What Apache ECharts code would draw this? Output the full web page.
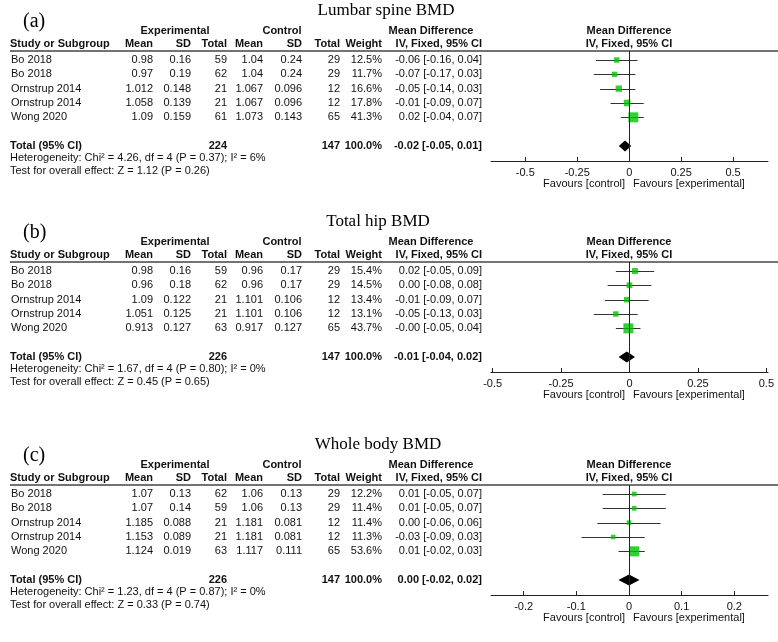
<!DOCTYPE html>
<html><head><meta charset="utf-8">
<script src="https://cdn.jsdelivr.net/npm/echarts@6/dist/echarts.min.js"></script>
<style>html,body{margin:0;padding:0;background:#fff}#c{width:778px;height:642px}</style>
</head><body><div id="c"></div>
<script>
const studies = ['Bo 2018', 'Bo 2018', 'Ornstrup 2014', 'Ornstrup 2014', 'Wong 2020'];

// (a) Lumbar spine BMD
const lumbarExpMean = [0.98, 0.97, 1.012, 1.058, 1.09];
const lumbarExpSD = [0.16, 0.19, 0.148, 0.139, 0.159];
const lumbarExpN = [59, 62, 21, 21, 61];
const lumbarCtlMean = [1.04, 1.04, 1.067, 1.067, 1.073];
const lumbarCtlSD = [0.24, 0.24, 0.096, 0.096, 0.143];
const lumbarCtlN = [29, 29, 12, 12, 65];
const lumbarWeight = [12.5, 11.7, 16.6, 17.8, 41.3];
const lumbarMD = [-0.06, -0.07, -0.05, -0.01, 0.02];
const lumbarLo = [-0.16, -0.17, -0.14, -0.09, -0.04];
const lumbarHi = [0.04, 0.03, 0.03, 0.07, 0.07];
const lumbarTotal = [-0.02, -0.05, 0.01];
const lumbarN = [224, 147];
const lumbarHet = 'Heterogeneity: Chi\u00b2 = 4.26, df = 4 (P = 0.37); I\u00b2 = 6%';
const lumbarTest = 'Test for overall effect: Z = 1.12 (P = 0.26)';
const lumbarTicks = [-0.5, -0.25, 0, 0.25, 0.5];

// (b) Total hip BMD
const hipExpMean = [0.98, 0.96, 1.09, 1.051, 0.913];
const hipExpSD = [0.16, 0.18, 0.122, 0.125, 0.127];
const hipExpN = [59, 62, 21, 21, 63];
const hipCtlMean = [0.96, 0.96, 1.101, 1.101, 0.917];
const hipCtlSD = [0.17, 0.17, 0.106, 0.106, 0.127];
const hipCtlN = [29, 29, 12, 12, 65];
const hipWeight = [15.4, 14.5, 13.4, 13.1, 43.7];
const hipMD = [0.02, 0.00, -0.01, -0.05, -0.004];
const hipLo = [-0.05, -0.08, -0.09, -0.13, -0.05];
const hipHi = [0.09, 0.08, 0.07, 0.03, 0.04];
const hipTotal = [-0.01, -0.04, 0.02];
const hipN = [226, 147];
const hipHet = 'Heterogeneity: Chi\u00b2 = 1.67, df = 4 (P = 0.80); I\u00b2 = 0%';
const hipTest = 'Test for overall effect: Z = 0.45 (P = 0.65)';
const hipTicks = [-0.5, -0.25, 0, 0.25, 0.5];

// (c) Whole body BMD
const wholeExpMean = [1.07, 1.07, 1.185, 1.153, 1.124];
const wholeExpSD = [0.13, 0.14, 0.088, 0.089, 0.019];
const wholeExpN = [62, 59, 21, 21, 63];
const wholeCtlMean = [1.06, 1.06, 1.181, 1.181, 1.117];
const wholeCtlSD = [0.13, 0.13, 0.081, 0.081, 0.111];
const wholeCtlN = [29, 29, 12, 12, 65];
const wholeWeight = [12.2, 11.4, 11.4, 11.3, 53.6];
const wholeMD = [0.01, 0.01, 0.00, -0.03, 0.01];
const wholeLo = [-0.05, -0.05, -0.06, -0.09, -0.02];
const wholeHi = [0.07, 0.07, 0.06, 0.03, 0.03];
const wholeTotal = [0.00, -0.02, 0.02];
const wholeN = [226, 147];
const wholeHet = 'Heterogeneity: Chi\u00b2 = 1.23, df = 4 (P = 0.87); I\u00b2 = 0%';
const wholeTest = 'Test for overall effect: Z = 0.33 (P = 0.74)';
const wholeTicks = [-0.2, -0.1, 0, 0.1, 0.2];

const panels = [
  {T: 0, title: 'Lumbar spine BMD', titleX: 386, tag: '(a)', expMean: lumbarExpMean, expSD: lumbarExpSD, expN: lumbarExpN,
   ctlMean: lumbarCtlMean, ctlSD: lumbarCtlSD, ctlN: lumbarCtlN, weight: lumbarWeight, md: lumbarMD, lo: lumbarLo, hi: lumbarHi,
   total: lumbarTotal, n: lumbarN, het: lumbarHet, test: lumbarTest, ticks: lumbarTicks, xMin: -0.665, xMax: 0.668},
  {T: 211, title: 'Total hip BMD', titleX: 378, tag: '(b)', expMean: hipExpMean, expSD: hipExpSD, expN: hipExpN,
   ctlMean: hipCtlMean, ctlSD: hipCtlSD, ctlN: hipCtlN, weight: hipWeight, md: hipMD, lo: hipLo, hi: hipHi,
   total: hipTotal, n: hipN, het: hipHet, test: hipTest, ticks: hipTicks, xMin: -0.506, xMax: 0.506},
  {T: 434, title: 'Whole body BMD', titleX: 378, tag: '(c)', expMean: wholeExpMean, expSD: wholeExpSD, expN: wholeExpN,
   ctlMean: wholeCtlMean, ctlSD: wholeCtlSD, ctlN: wholeCtlN, weight: wholeWeight, md: wholeMD, lo: wholeLo, hi: wholeHi,
   total: wholeTotal, n: wholeN, het: wholeHet, test: wholeTest, ticks: wholeTicks, xMin: -0.262, xMax: 0.264}
];

const FONT = '"Liberation Sans", Arial, sans-serif';
const SERIF = '"Liberation Serif", "Times New Roman", serif';
const TXT = '#111';
const reg = '11px ' + FONT;
const bold = 'bold 11px ' + FONT;
const fmt = v => v.toFixed(2);
const ciStr = (m, l, h) => fmt(m) + ' [' + fmt(l) + ', ' + fmt(h) + ']';
const TOTAL_ROW = 6;

const grids = [], xAxes = [], yAxes = [], series = [], graphics = [];

function gtext(x, y, text, font, align) {
  graphics.push({type: 'text', x: x, y: y, silent: true,
    style: {text: text, font: font, fill: TXT, align: align || 'left', verticalAlign: 'middle'}});
}

panels.forEach((P, k) => {
  const T = P.T;
  grids.push({left: 491, width: 277, top: T + 51, height: 110});
  xAxes.push({type: 'value', gridIndex: k, min: P.xMin, max: P.xMax, position: 'bottom',
    axisLine: {show: true, onZero: false, lineStyle: {color: '#222', width: 1}},
    axisTick: {show: true, inside: true, length: 4, customValues: P.ticks, lineStyle: {color: '#222'}},
    axisLabel: {show: true, customValues: P.ticks, fontSize: 11, fontFamily: FONT, color: TXT, margin: 6},
    splitLine: {show: false}});
  yAxes.push({type: 'value', gridIndex: k, min: -0.628, max: 7.047, inverse: true, show: false});

  const maxW = Math.max.apply(null, P.weight);
  // whiskers
  series.push({type: 'custom', xAxisIndex: k, yAxisIndex: k, silent: true, z: 2,
    data: P.md.map((m, i) => [P.lo[i], P.hi[i], i]),
    encode: {x: [0, 1], y: 2},
    renderItem: (params, api) => {
      const a = api.coord([api.value(0), api.value(2)]);
      const b = api.coord([api.value(1), api.value(2)]);
      const y = Math.round(a[1]) + 0.5;
      return {type: 'line', shape: {x1: a[0], y1: y, x2: b[0], y2: y}, style: {stroke: '#333', lineWidth: 1}};
    }});
  // squares
  series.push({type: 'scatter', xAxisIndex: k, yAxisIndex: k, silent: true, z: 3,
    symbol: 'rect',
    data: P.md.map((m, i) => [m, i, P.weight[i]]),
    symbolSize: v => 10 * Math.sqrt(v[2] / maxW),
    itemStyle: {color: '#00c400'},
    markLine: {silent: true, symbol: 'none', label: {show: false},
      lineStyle: {color: '#222', type: 'solid', width: 1},
      data: [{xAxis: 0}]}});
  // diamond
  series.push({type: 'custom', xAxisIndex: k, yAxisIndex: k, silent: true, z: 4,
    data: [[P.total[0], P.total[1], P.total[2], TOTAL_ROW]],
    encode: {x: [0, 1, 2], y: 3},
    renderItem: (params, api) => {
      const c = api.coord([api.value(0), api.value(3)]);
      const l = api.coord([api.value(1), api.value(3)]);
      const r = api.coord([api.value(2), api.value(3)]);
      const h = 5.5;
      return {type: 'polygon', shape: {points: [[l[0], c[1]], [c[0], c[1] - h], [r[0], c[1]], [c[0], c[1] + h]]},
        style: {fill: '#000'}};
    }});
  // table rows
  const rowData = P.md.map((m, i) => [0, i]).concat([[0, TOTAL_ROW]]);
  series.push({type: 'custom', xAxisIndex: k, yAxisIndex: k, silent: true, clip: false, z: 5,
    data: rowData,
    encode: {y: 1},
    renderItem: (params, api) => {
      const i = params.dataIndex;
      const y = api.coord([0, api.value(1)])[1];
      let cells;
      if (i < P.md.length) {
        cells = [
          [11, studies[i], 'left', reg],
          [153, String(P.expMean[i]), 'right', reg],
          [191, String(P.expSD[i]), 'right', reg],
          [227, String(P.expN[i]), 'right', reg],
          [263, String(P.ctlMean[i]), 'right', reg],
          [302, String(P.ctlSD[i]), 'right', reg],
          [340, String(P.ctlN[i]), 'right', reg],
          [382, P.weight[i].toFixed(1) + '%', 'right', reg],
          [482, ciStr(P.md[i], P.lo[i], P.hi[i]), 'right', reg]
        ];
      } else {
        cells = [
          [10, 'Total (95% CI)', 'left', bold],
          [227, String(P.n[0]), 'right', bold],
          [340, String(P.n[1]), 'right', bold],
          [382, '100.0%', 'right', bold],
          [482, ciStr(P.total[0], P.total[1], P.total[2]), 'right', bold]
        ];
      }
      return {type: 'group', children: cells.map(c => ({type: 'text', x: c[0], y: y,
        style: {text: c[1], font: c[3], fill: TXT, align: c[2], verticalAlign: 'middle'}}))};
    }});

  // static texts
  graphics.push({type: 'text', x: P.titleX, y: T + 11, silent: true,
    style: {text: P.title, font: '17px ' + SERIF, fill: '#000', align: 'center', verticalAlign: 'middle'}});
  graphics.push({type: 'text', x: 23, y: T + 22, silent: true,
    style: {text: P.tag, font: '20px ' + SERIF, fill: '#000', align: 'left', verticalAlign: 'middle'}});
  gtext(175, T + 31, 'Experimental', bold, 'center');
  gtext(282, T + 31, 'Control', bold, 'center');
  gtext(431, T + 31, 'Mean Difference', bold, 'center');
  gtext(629, T + 31, 'Mean Difference', bold, 'center');
  gtext(10, T + 44, 'Study or Subgroup', bold, 'left');
  gtext(153, T + 44, 'Mean', bold, 'right');
  gtext(191, T + 44, 'SD', bold, 'right');
  gtext(227, T + 44, 'Total', bold, 'right');
  gtext(263, T + 44, 'Mean', bold, 'right');
  gtext(302, T + 44, 'SD', bold, 'right');
  gtext(340, T + 44, 'Total', bold, 'right');
  gtext(382, T + 44, 'Weight', bold, 'right');
  gtext(482, T + 44, 'IV, Fixed, 95% CI', bold, 'right');
  gtext(629, T + 44, 'IV, Fixed, 95% CI', bold, 'center');
  graphics.push({type: 'line', silent: true, shape: {x1: 10, y1: T + 51, x2: 778, y2: T + 51},
    style: {stroke: '#444', lineWidth: 1.5}});
  gtext(10, T + 158, P.het, reg, 'left');
  gtext(10, T + 171, P.test, reg, 'left');
  gtext(625, T + 184, 'Favours [control]', reg, 'right');
  gtext(633, T + 184, 'Favours [experimental]', reg, 'left');
});

const chart = echarts.init(document.getElementById('c'), null, {renderer: 'canvas'});
chart.setOption({
  animation: false,
  backgroundColor: '#fff',
  grid: grids, xAxis: xAxes, yAxis: yAxes, series: series,
  graphic: graphics
});
</script></body></html>
